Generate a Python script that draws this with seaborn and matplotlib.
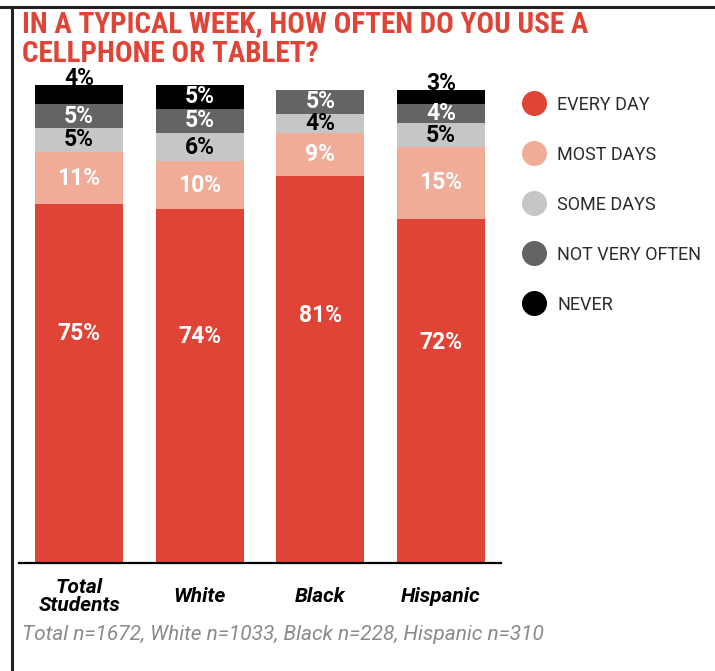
import matplotlib
matplotlib.use("Agg")
import matplotlib.pyplot as plt
from matplotlib.lines import Line2D
import numpy as np
import pandas as pd
import seaborn as sns

# ---- data ----
groups = ["Total\nStudents", "White", "Black", "Hispanic"]
levels = ["EVERY DAY", "MOST DAYS", "SOME DAYS", "NOT VERY OFTEN", "NEVER"]
every_day = [75, 74, 81, 72]
most_days = [11, 10, 9, 15]
some_days = [5, 6, 4, 5]
not_very_often = [5, 5, 5, 4]
never = [4, 5, 0, 3]
colors = ["#E04436", "#F0AC96", "#C5C6C8", "#636466", "#000000"]
label_colors = ["white", "white", "black", "white", "white"]
title = "IN A TYPICAL WEEK, HOW OFTEN DO YOU USE A\nCELLPHONE OR TABLET?"
footnote = "Total n=1672, White n=1033, Black n=228, Hispanic n=310"

series = [every_day, most_days, some_days, not_very_often, never]

sns.set_theme(style="white")
plt.rcParams["font.family"] = ["Roboto", "DejaVu Sans"]

fig = plt.figure(figsize=(7.15, 6.71), dpi=100)
ax = fig.add_axes([0.0262, 0.161, 0.675, 0.7124])

vals = np.array(series, dtype=float)  # levels x groups
cum = np.cumsum(vals, axis=0)

# draw stacked bars back to front
for li in range(len(levels) - 1, -1, -1):
    df = pd.DataFrame({"group": groups, "cum": cum[li]})
    sns.barplot(data=df, x="group", y="cum", order=groups, color=colors[li],
                saturation=1, width=0.73, errorbar=None, ax=ax, linewidth=0)

# value labels
for li in range(len(levels)):
    for gi in range(len(groups)):
        v = vals[li, gi]
        if v <= 0:
            continue
        bottom = cum[li, gi] - v
        col = label_colors[li]
        if li == 0:
            y = bottom + 0.64 * v
        elif li == len(levels) - 1 and v < 5:
            y = cum[li, gi] + 1.4
            col = "black"
        else:
            y = bottom + 0.5 * v
        ax.text(gi, y, f"{int(v)}%", ha="center", va="center", color=col,
                fontsize=16.5, fontweight="bold", clip_on=False)

ax.set_xlim(-0.5, 3.5)
ax.set_ylim(0, 100)
ax.set_xlabel("")
ax.set_ylabel("")
ax.set_yticks([])
for s in ["top", "right", "left"]:
    ax.spines[s].set_visible(False)
ax.spines["bottom"].set_color("black")
ax.spines["bottom"].set_linewidth(1.6)
ax.tick_params(axis="x", length=0, pad=24)
for t in ax.get_xticklabels():
    t.set_fontsize(15)
    t.set_fontweight("bold")
    t.set_fontstyle("italic")
    t.set_color("black")
    t.set_verticalalignment("center")
    t.set_linespacing(0.95)

# legend
handles = [Line2D([0], [0], marker="o", linestyle="none", markersize=17,
                  markerfacecolor=c, markeredgecolor=c) for c in colors]
leg = fig.legend(handles, levels, loc="upper left",
                 bbox_to_anchor=(0.712, 0.868), frameon=False,
                 fontsize=13, labelspacing=1.77, handletextpad=0.28,
                 borderaxespad=0)
for t in leg.get_texts():
    t.set_color("#2b2b2b")

# title
fig.text(22 / 715, 1 - 10 / 671, title, ha="left", va="top", color="#E04436",
         fontsize=21, fontweight="bold", linespacing=1.1,
         family=["Roboto Condensed", "Liberation Sans Narrow", "Roboto", "DejaVu Sans"])

# footnote
fig.text(22 / 715, 1 - 634 / 671, footnote, ha="left", va="center",
         color="#8a8a8a", fontsize=15, fontstyle="italic", fontweight="normal")

# frame (top and left edges)
fig.add_artist(Line2D([0, 1], [1 - 6.5 / 671, 1 - 6.5 / 671],
                      transform=fig.transFigure, color="#222222", linewidth=2.2))
fig.add_artist(Line2D([12 / 715, 12 / 715], [0, 1 - 6.5 / 671],
                      transform=fig.transFigure, color="#222222", linewidth=2.2))

fig.savefig("out.png", dpi=100)
